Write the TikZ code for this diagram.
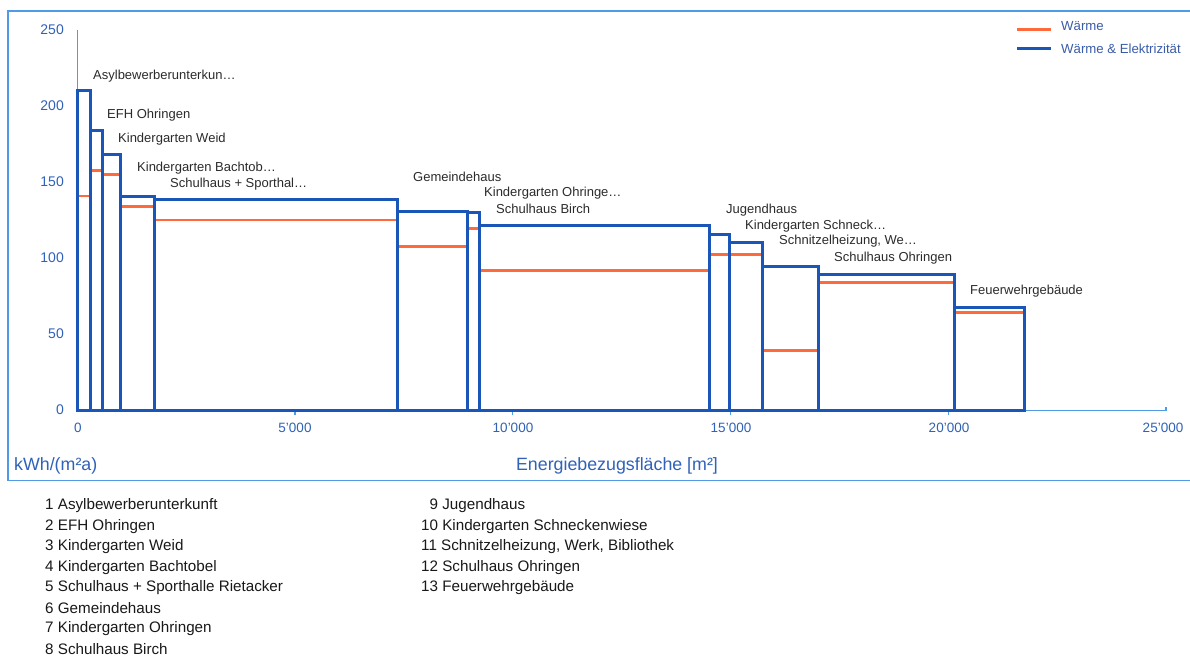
\documentclass[tikz,border=0pt]{standalone}
\usepackage{fontspec}
\setmainfont{Liberation Sans}
\definecolor{framec}{HTML}{4F9BE6}
\definecolor{barblue}{HTML}{1A56B8}
\definecolor{heatred}{HTML}{FF6A3D}
\definecolor{axtext}{HTML}{2F62B8}
\definecolor{lbltext}{HTML}{2B2B2B}
\definecolor{legtext}{HTML}{3A5CA8}
\begin{document}
\begin{tikzpicture}[x=1pt,y=-1pt,
  chartframe/.style={draw=framec,line width=1.5pt},
  axisline/.style={draw=framec,line width=1.3pt},
  barline/.style={draw=barblue,line width=3pt,line join=miter},
  heatline/.style={draw=heatred,line width=2.5pt},
  barlabel/.style={anchor=west,inner sep=0pt,text=lbltext,font=\fontsize{13}{15}\selectfont},
  ytick/.style={anchor=east,inner sep=0pt,text=axtext,font=\fontsize{14}{16}\selectfont},
  xtick/.style={anchor=center,inner sep=0pt,text=axtext,font=\fontsize{13.5}{15}\selectfont},
  axtitle/.style={inner sep=0pt,text=axtext,font=\fontsize{17.8}{20}\selectfont},
  legendtext/.style={anchor=west,inner sep=0pt,text=legtext,font=\fontsize{13.2}{15}\selectfont},
  listtext/.style={anchor=west,inner sep=0pt,text=black!90,font=\fontsize{15.2}{17}\selectfont}]
\useasboundingbox (0,0) rectangle (1190,656);
\fill[white] (0,0) rectangle (1190,656);
% chart frame (right side runs off the picture)
\draw[chartframe] (1200,11) -- (8,11) -- (8,480.7) -- (1200,480.7);
% axes
\coordinate (O) at (77.3,410.5);
\coordinate (Ytop) at (77.3,30);
\coordinate (Xend) at (1166,410.5);
\draw[axisline] (Ytop) -- (O) -- (Xend) -- ++(0,-4);
\foreach \k in {1,2,3,4} \draw[axisline] (77.3+217.75*\k,410.5) -- ++(0,4);
% heat (Waerme) lines
\foreach \l/\r/\y in {77.3/90.7/196, 90.7/102.3/170.7, 102.3/120.5/174.7, 120.5/154.3/206.7,
  154.3/397.5/220, 397.5/467.7/246.7, 467.7/479.3/228.3, 479.3/709.3/270.7,
  709.3/729.5/254.3, 729.5/762/254.3, 762/818/350.3, 818/954/282.7, 954/1024.3/312.3}
  \draw[heatline] (\l,\y) -- (\r,\y);
% bars (Waerme & Elektrizitaet)
\foreach \l/\r/\t in {77.3/90.7/90.7, 90.7/102.3/130, 102.3/120.5/154.7, 120.5/154.3/196.7,
  154.3/397.5/199.3, 397.5/467.7/211.3, 467.7/479.3/212, 479.3/709.3/225.3,
  709.3/729.5/234.7, 729.5/762/242.3, 762/818/266.7, 818/954/274, 954/1024.3/307.3}
  \draw[barline] (\l,410.5) rectangle (\r,\t);
% y tick labels
\node[ytick] (y250) at (64,30) {250};
\node[ytick] (y200) at (64,106) {200};
\node[ytick] (y150) at (64,182) {150};
\node[ytick] (y100) at (64,258) {100};
\node[ytick] (y50) at (64,334) {50};
\node[ytick] (y0) at (64,410) {0};
% x tick labels
\node[xtick] (x0) at (78,427.5) {0};
\node[xtick] (x5) at (295,427.5) {5'000};
\node[xtick] (x10) at (513,427.5) {10'000};
\node[xtick] (x15) at (731,427.5) {15'000};
\node[xtick] (x20) at (949,427.5) {20'000};
\node[xtick] (x25) at (1163,427.5) {25'000};
% axis titles
\node[axtitle,anchor=west] (yunit) at (14,466) {kWh/(m²a)};
\node[axtitle,anchor=center] (xtitle) at (617,466) {Energiebezugsfläche [m²]};
% bar labels
\node[barlabel] (l1) at (93,76) {Asylbewerberunterkun…};
\node[barlabel] (l2) at (107,115) {EFH Ohringen};
\node[barlabel] (l3) at (118,139) {Kindergarten Weid};
\node[barlabel] (l4) at (137,168) {Kindergarten Bachtob…};
\node[barlabel] (l5) at (170,184) {Schulhaus + Sporthal…};
\node[barlabel] (l6) at (413,177) {Gemeindehaus};
\node[barlabel] (l7) at (484,193) {Kindergarten Ohringe…};
\node[barlabel] (l8) at (496,209) {Schulhaus Birch};
\node[barlabel] (l9) at (726,210) {Jugendhaus};
\node[barlabel] (l10) at (745,226) {Kindergarten Schneck…};
\node[barlabel] (l11) at (779,241.5) {Schnitzelheizung, We…};
\node[barlabel] (l12) at (834,258) {Schulhaus Ohringen};
\node[barlabel] (l13) at (970,291.5) {Feuerwehrgebäude};
% legend
\coordinate (lr1) at (1017,29.5);
\coordinate (lr2) at (1050.5,29.5);
\coordinate (lb1) at (1017,48.5);
\coordinate (lb2) at (1050.5,48.5);
\draw[heatline] (lr1) -- (lr2);
\draw[barline,line width=3.5pt] (lb1) -- (lb2);
\node[legendtext] (leg1) at (1061,26) {Wärme};
\node[legendtext] (leg2) at (1061,49) {Wärme \& Elektrizität};
% list below
\node[listtext] (t1) at (45,506) {1 Asylbewerberunterkunft};
\node[listtext] (t2) at (45,526.5) {2 EFH Ohringen};
\node[listtext] (t3) at (45,547) {3 Kindergarten Weid};
\node[listtext] (t4) at (45,567.5) {4 Kindergarten Bachtobel};
\node[listtext] (t5) at (45,588) {5 Schulhaus + Sporthalle Rietacker};
\node[listtext] (t6) at (45,608.5) {6 Gemeindehaus};
\node[listtext] (t7) at (45,629) {7 Kindergarten Ohringen};
\node[listtext] (t8) at (45,649.5) {8 Schulhaus Birch};
\node[listtext] (t9) at (429.5,506) {9 Jugendhaus};
\node[listtext] (t10) at (421,526.5) {10 Kindergarten Schneckenwiese};
\node[listtext] (t11) at (421,547) {11 Schnitzelheizung, Werk, Bibliothek};
\node[listtext] (t12) at (421,567.5) {12 Schulhaus Ohringen};
\node[listtext] (t13) at (421,588) {13 Feuerwehrgebäude};
\end{tikzpicture}
\end{document}
